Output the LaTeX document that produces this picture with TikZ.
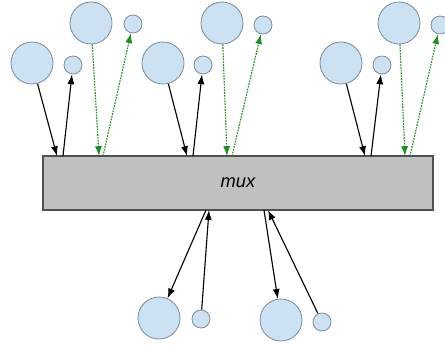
\documentclass[tikz,border=0pt]{standalone}
\usepackage{fontspec}
\setsansfont{Liberation Sans}
\usetikzlibrary{arrows.meta}

\definecolor{ballfill}{HTML}{CCE2F2}
\definecolor{balldraw}{HTML}{7E8E9E}
\definecolor{muxfill}{HTML}{C0C0C0}
\definecolor{muxdraw}{HTML}{505050}
\definecolor{ctrlgreen}{HTML}{1E8C1E}

\tikzset{
	bigball/.style={circle, draw=balldraw, fill=ballfill, line width=0.6pt, minimum size=1.05cm, inner sep=0pt},
	smallball/.style={circle, draw=balldraw, fill=ballfill, line width=0.6pt, minimum size=0.45cm, inner sep=0pt},
	data/.style={-{Latex[length=7pt,width=5pt]}, line width=0.8pt, black},
	ctrl/.style={-{Latex[length=7pt,width=5pt]}, line width=0.8pt, ctrlgreen,
		dash pattern=on 1.2pt off 0.8pt},
}

\begin{document}
\begin{tikzpicture}[x=0.025cm, y=-0.025cm]
\useasboundingbox (0,0) rectangle (445,351);

\node[draw=muxdraw, fill=muxfill, line width=1.4pt, minimum width=9.75cm,
	minimum height=1.35cm, inner sep=0pt,
	font=\sffamily\itshape\fontsize{13}{15}\selectfont] (mux) at (238,183) {mux};

% top groups
\node[bigball] (in1) at (32,63) {};
\node[smallball] (out1) at (73,65) {};
\node[bigball] (cin1) at (91,23) {};
\node[smallball] (cout1) at (133,24) {};

\node[bigball] (in2) at (163,63) {};
\node[smallball] (out2) at (203,65) {};
\node[bigball] (cin2) at (222,23) {};
\node[smallball] (cout2) at (263,25) {};

\node[bigball] (in3) at (341,63) {};
\node[smallball] (out3) at (382,65) {};
\node[bigball] (cin3) at (399,23) {};
\node[smallball] (cout3) at (440,25) {};

% bottom
\node[bigball] (in4) at (159,318) {};
\node[smallball] (out4) at (201,319) {};
\node[bigball] (in5) at (281,320) {};
\node[smallball] (out5) at (322,322) {};

% contact points on the mux
\coordinate (a1) at (57,156);
\coordinate (b1) at (63,156);
\coordinate (c1) at (99,156);
\coordinate (d1) at (103,156);
\coordinate (a2) at (187,156);
\coordinate (b2) at (193,156);
\coordinate (c2) at (227,156);
\coordinate (d2) at (232,156);
\coordinate (a3) at (365,156);
\coordinate (b3) at (371,156);
\coordinate (c3) at (405,156);
\coordinate (d3) at (410,156);
\coordinate (a4) at (206,210);
\coordinate (b4) at (209,210);
\coordinate (a5) at (264,210);
\coordinate (b5) at (268,210);

\foreach \n in {1,2,3}{
	\draw[data] (in\n) -- (a\n);
	\draw[data] (b\n) -- (out\n);
	\draw[ctrl] (cin\n) -- (c\n);
	\draw[ctrl] (d\n) -- (cout\n);
}
\draw[data] (a4) -- (in4);
\draw[data] (out4) -- (b4);
\draw[data] (a5) -- (in5);
\draw[data] (out5) -- (b5);
\end{tikzpicture}
\end{document}
